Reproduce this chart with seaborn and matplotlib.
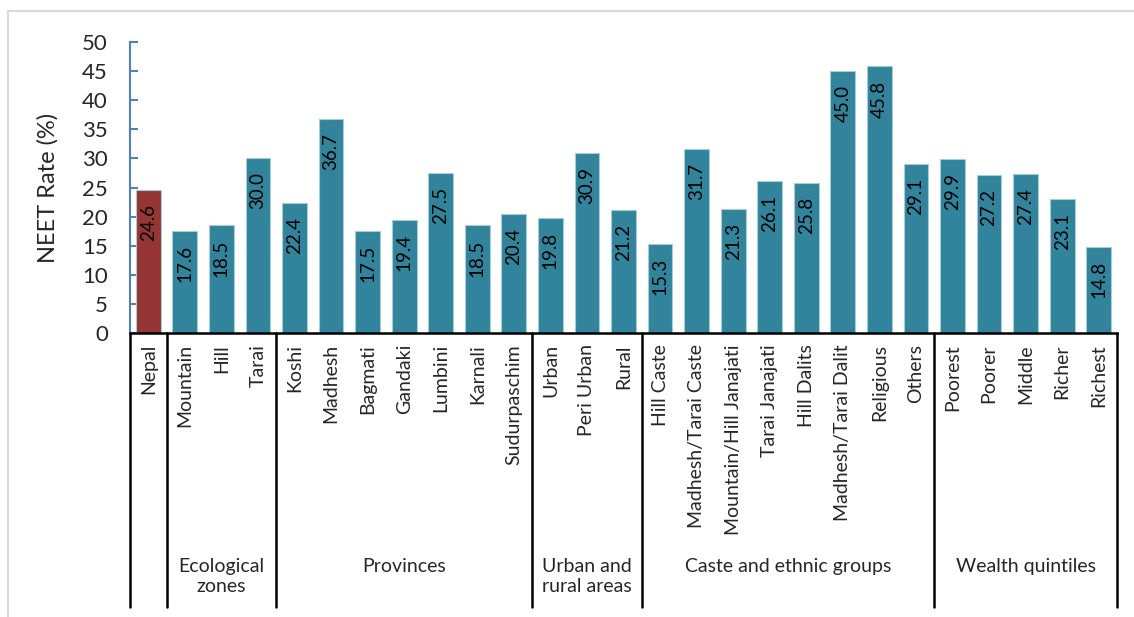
import numpy as np
import pandas as pd
import matplotlib
matplotlib.use("Agg")
import matplotlib.pyplot as plt
import seaborn as sns

# ==================== 数据 ====================
categories = ["Nepal",
              "Mountain", "Hill", "Tarai",
              "Koshi", "Madhesh", "Bagmati", "Gandaki", "Lumbini", "Karnali", "Sudurpaschim",
              "Urban", "Peri Urban", "Rural",
              "Hill Caste", "Madhesh/Tarai Caste", "Mountain/Hill Janajati", "Tarai Janajati",
              "Hill Dalits", "Madhesh/Tarai Dalit", "Religious", "Others",
              "Poorest", "Poorer", "Middle", "Richer", "Richest"]
values = [24.6,
          17.6, 18.5, 30.0,
          22.4, 36.7, 17.5, 19.4, 27.5, 18.5, 20.4,
          19.8, 30.9, 21.2,
          15.3, 31.7, 21.3, 26.1, 25.8, 45.0, 45.8, 29.1,
          29.9, 27.2, 27.4, 23.1, 14.8]
group_names = ["", "Ecological\nzones", "Provinces", "Urban and\nrural areas",
               "Caste and ethnic groups", "Wealth quintiles"]
group_sizes = [1, 3, 7, 3, 8, 5]

df = pd.DataFrame({"cat": categories, "val": values})
df["kind"] = ["national"] + ["sub"] * (len(df) - 1)

sns.set_theme(style="white")
plt.rcParams["font.family"] = ["Lato", "DejaVu Sans"]

fig = plt.figure(figsize=(11.34, 6.17), dpi=100)
ax = fig.add_axes([130 / 1134, 1 - 333 / 617, (1117 - 130) / 1134, (333 - 42) / 617])

sns.barplot(data=df, x="cat", y="val", hue="kind", order=categories,
            palette={"national": "#963634", "sub": "#31849B"}, saturation=1,
            width=0.68, edgecolor="#A5CCDA", linewidth=0.8, legend=False, ax=ax)

# 数值标签（柱内顶部）
for i, v in enumerate(values):
    ax.annotate(f"{v:.1f}", (i, v), xytext=(0, -14), textcoords="offset pixels",
                rotation=90, ha="center", va="top", fontsize=13.5, color="black")

ax.set_xlim(-0.5, len(categories) - 0.5)
ax.set_ylim(0, 50)
ax.set_yticks(np.arange(0, 51, 5))
ax.tick_params(axis="y", direction="in", length=6, width=1.5, color="#4F81BD",
               labelsize=16, pad=16, left=True)
ax.tick_params(axis="x", length=0, labelsize=14, pad=8)
plt.setp(ax.get_xticklabels(), rotation=90, va="top")
ax.set_xlabel("")
ax.set_ylabel("NEET Rate (%)", fontsize=17, labelpad=17)

for s in ["top", "right"]:
    ax.spines[s].set_visible(False)
ax.spines["left"].set_color("#4F81BD")
ax.spines["left"].set_linewidth(1.5)
ax.spines["bottom"].set_color("black")
ax.spines["bottom"].set_linewidth(1.8)

# 分组分隔线与分组标签
trans = ax.get_xaxis_transform()
low = -(607 - 333) / (333 - 42)
edge = -0.5
ax.plot([edge, edge], [0, low], color="black", lw=1.8, transform=trans, clip_on=False)
for name, n in zip(group_names, group_sizes):
    center = edge + n / 2
    edge += n
    ax.plot([edge, edge], [0, low], color="black", lw=1.8, transform=trans, clip_on=False)
    if name:
        ax.text(center, -(558 - 333) / (333 - 42), name, transform=trans,
                ha="center", va="top", fontsize=14, linespacing=1.2)

# 外框（浅灰）
fig.add_artist(plt.Line2D([8 / 1134, 8 / 1134], [0, 1 - 11 / 617], color="#D9D9D9", lw=1.5))
fig.add_artist(plt.Line2D([8 / 1134, 1], [1 - 11 / 617, 1 - 11 / 617], color="#D9D9D9", lw=1.5))

fig.savefig("out.png", dpi=100)
